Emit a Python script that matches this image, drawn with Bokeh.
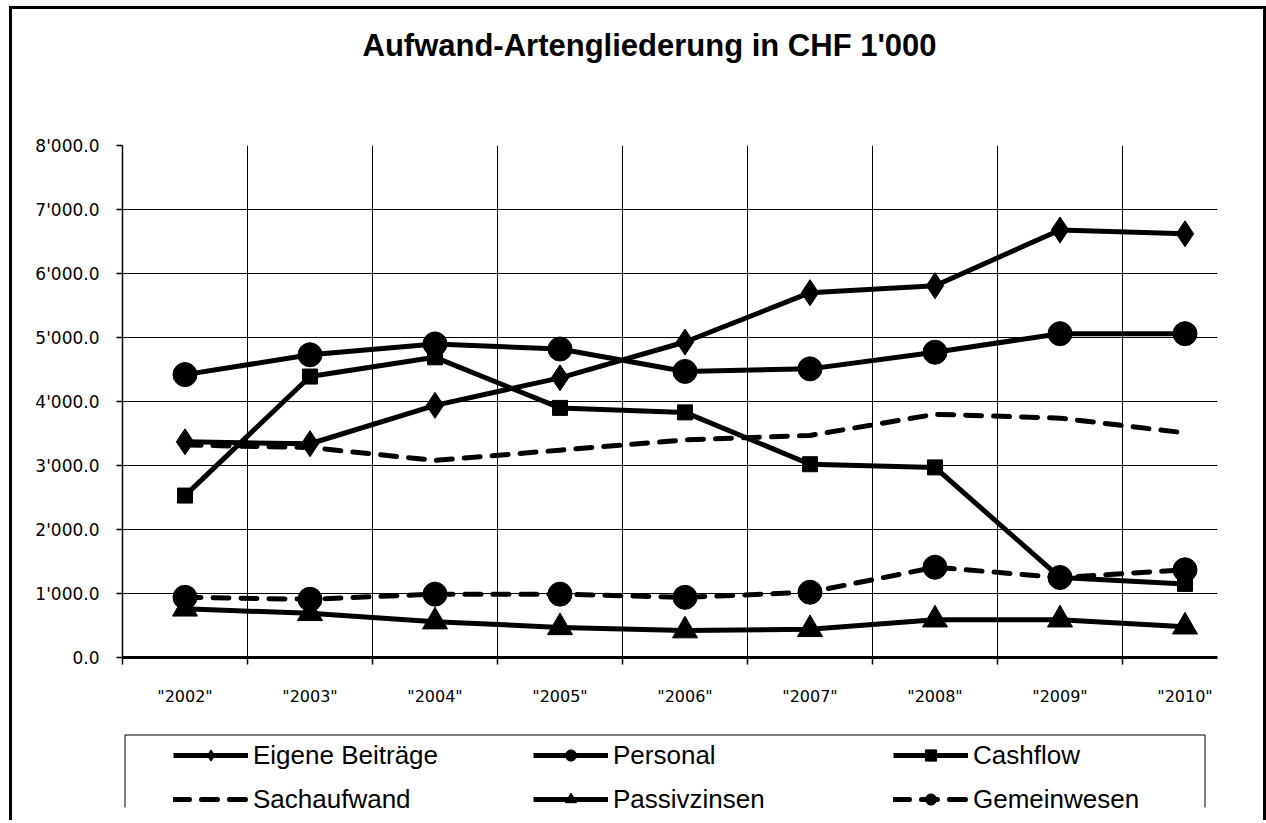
from bokeh.plotting import figure
from bokeh.layouts import column
from bokeh.models import Range1d, FixedTicker, Legend, LegendItem, Title
from bokeh.embed import file_html
from bokeh.resources import INLINE

# ---- data ----
years = ['"2002"', '"2003"', '"2004"', '"2005"', '"2006"', '"2007"', '"2008"', '"2009"', '"2010"']
eigene_beitraege = [3370, 3340, 3940, 4370, 4930, 5700, 5810, 6680, 6620]
personal = [4420, 4730, 4900, 4820, 4470, 4510, 4770, 5060, 5060]
cashflow = [2530, 4390, 4690, 3900, 3830, 3020, 2970, 1250, 1150]
sachaufwand = [3320, 3280, 3080, 3240, 3400, 3470, 3800, 3740, 3510]
passivzinsen = [760, 690, 560, 470, 420, 440, 590, 590, 480]
gemeinwesen = [940, 910, 990, 990, 940, 1020, 1410, 1250, 1370]
y_ticks = [0, 1000, 2000, 3000, 4000, 5000, 6000, 7000, 8000]
y_tick_labels = ["0.0", "1'000.0", "2'000.0", "3'000.0", "4'000.0",
                 "5'000.0", "6'000.0", "7'000.0", "8'000.0"]
title_text = "Aufwand-Artengliederung in CHF 1'000"
series_names = ["Eigene Beiträge", "Personal", "Cashflow",
                "Sachaufwand", "Passivzinsen", "Gemeinwesen"]

n = len(years)
centers = [i + 0.5 for i in range(n)]
bounds = list(range(n + 1))

W, H1, H2 = 1257, 724, 90
BORDER = "3px solid black"

# ---------------- main chart ----------------
p = figure(width=W, height=H1, output_backend="svg", toolbar_location=None,
           x_range=Range1d(0, 8.76), y_range=Range1d(0, 8000),
           min_border_left=110, min_border_right=52, min_border_top=136, min_border_bottom=76)
p.outline_line_color = None
p.background_fill_color = "white"
p.border_fill_color = "white"
p.margin = (6, 0, 0, 9)
p.styles = {"border-left": BORDER, "border-top": BORDER, "border-right": BORDER}

# spacer between frame and title
p.add_layout(Title(text=" ", text_font_size="1px", standoff=69), "above")

p.title.text = title_text
p.title.text_font = "Liberation Sans"
p.title.text_font_size = "31px"
p.title.text_font_style = "bold"
p.title.text_color = "black"
p.title.align = "left"
p.title.offset = 240
p.title.standoff = 22

# x axis
xa = p.xaxis[0]
xa.ticker = FixedTicker(ticks=centers, minor_ticks=bounds)
xa.major_label_overrides = {c: y for c, y in zip(centers, years)}
xa.major_tick_line_color = None
xa.major_tick_out = 7
xa.major_tick_in = 0
xa.minor_tick_out = 7
xa.minor_tick_in = 0
xa.minor_tick_line_color = "black"
xa.minor_tick_line_width = 1.5
xa.axis_line_width = 3
xa.axis_line_color = "black"
xa.major_label_standoff = 22
xa.major_label_text_font = "DejaVu Sans"
xa.major_label_text_font_size = "16px"
xa.major_label_text_color = "black"

# y axis
ya = p.yaxis[0]
ya.ticker = FixedTicker(ticks=y_ticks)
ya.major_label_overrides = {t: l for t, l in zip(y_ticks, y_tick_labels)}
ya.major_tick_out = 6
ya.major_tick_in = 0
ya.major_tick_line_width = 1.5
ya.minor_tick_line_color = None
ya.axis_line_width = 1.5
ya.axis_line_color = "black"
ya.major_label_standoff = 17
ya.major_label_text_font = "DejaVu Sans"
ya.major_label_text_font_size = "17px"
ya.major_label_text_color = "black"

# grids
p.xgrid.ticker = FixedTicker(ticks=bounds[1:-1])
p.xgrid.grid_line_color = "black"
p.xgrid.grid_line_width = 1
p.ygrid.ticker = FixedTicker(ticks=y_ticks[1:])
p.ygrid.grid_line_color = "black"
p.ygrid.grid_line_width = 1

LW = 5
DASH = "16 12"


def draw(fig):
    r = []
    r.append([fig.line(centers, eigene_beitraege, line_color="black", line_width=LW),
              fig.scatter(centers, eigene_beitraege, marker="diamond", size=26, color="black")])
    r.append([fig.line(centers, personal, line_color="black", line_width=LW),
              fig.scatter(centers, personal, marker="circle", size=24, color="black")])
    r.append([fig.line(centers, cashflow, line_color="black", line_width=LW),
              fig.scatter(centers, cashflow, marker="square", size=15, color="black")])
    r.append([fig.line(centers, sachaufwand, line_color="black", line_width=LW,
                       line_dash=DASH, line_cap="round")])
    r.append([fig.line(centers, passivzinsen, line_color="black", line_width=LW),
              fig.scatter(centers, passivzinsen, marker="triangle", size=25, color="black")])
    r.append([fig.line(centers, gemeinwesen, line_color="black", line_width=LW,
                       line_dash=DASH, line_cap="round"),
              fig.scatter(centers, gemeinwesen, marker="circle", size=24, color="black")])
    return r


draw(p)

# ---------------- legend strip ----------------
# the column aligns this strip's frame with the chart frame (122..1217 px),
# so x data = px - 122 and y data = px - 730 (top down)
FW = 1095
p2 = figure(width=W, height=H2, output_backend="svg", toolbar_location=None,
            x_range=Range1d(0, FW), y_range=Range1d(H2, 0),
            x_axis_location=None, y_axis_location=None, title_location=None,
            min_border=0, min_border_left=0, min_border_right=0,
            min_border_top=0, min_border_bottom=0)
p2.outline_line_color = None
p2.background_fill_color = "white"
p2.border_fill_color = "white"
p2.xgrid.visible = False
p2.ygrid.visible = False
p2.margin = (0, 0, 0, 9)
p2.styles = {"border-left": BORDER, "border-right": BORDER}

rs = draw(p2)  # series lie outside this strip's ranges; used only for the legend glyphs
items = [LegendItem(label=name, renderers=r) for name, r in zip(series_names, rs)]
legend = Legend(items=items, location=(51, 5.5), orientation="horizontal", ncols=3,
                label_text_font="Liberation Sans", label_text_font_size="26px",
                label_text_color="black",
                glyph_width=75, glyph_height=28, label_height=28, label_width=267,
                spacing=13, padding=0, margin=0, label_standoff=5,
                border_line_alpha=0, background_fill_alpha=0)
p2.add_layout(legend, "center")

# legend frame (open at the bottom, cut by the chart edge)
box_l, box_r, box_t, box_b = 2.5, 1082.5, 4.5, 77
p2.segment(x0=[box_l, box_l, box_r], y0=[box_t, box_t, box_t],
           x1=[box_r, box_l, box_r], y1=[box_t, box_b, box_b],
           line_color="black", line_width=1)

layout = column(p, p2, spacing=0)
open("out.html", "w").write(file_html(layout, INLINE))
